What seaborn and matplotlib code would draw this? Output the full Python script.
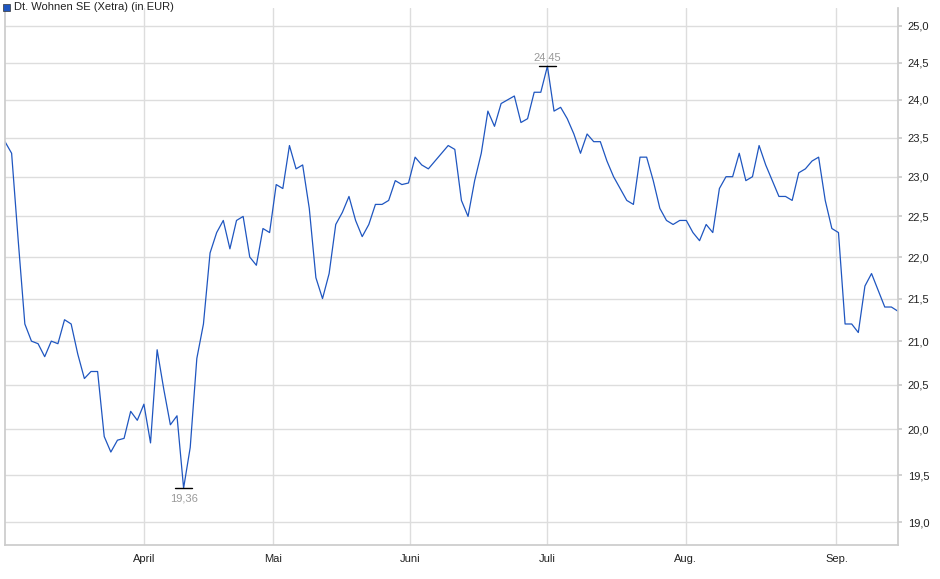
import numpy as np
import matplotlib
matplotlib.use("Agg")
import matplotlib.pyplot as plt
import seaborn as sns
from matplotlib.ticker import FixedLocator, NullLocator

prices = [23.45,23.3,22.2,21.2,21.0,20.97,20.82,21.0,20.97,21.25,
          21.2,20.85,20.57,20.65,20.65,19.92,19.75,19.88,19.9,20.2,
          20.1,20.28,19.85,20.9,20.45,20.05,20.15,19.36,19.8,20.8,
          21.2,22.05,22.3,22.45,22.1,22.45,22.5,22.0,21.9,22.35,
          22.3,22.9,22.85,23.4,23.1,23.15,22.6,21.75,21.5,21.8,
          22.4,22.55,22.75,22.45,22.25,22.4,22.65,22.65,22.7,22.95,
          22.9,22.92,23.25,23.15,23.1,23.2,23.3,23.4,23.35,22.7,
          22.5,22.95,23.3,23.85,23.65,23.95,24.0,24.05,23.7,23.75,
          24.1,24.1,24.45,23.85,23.9,23.75,23.55,23.3,23.55,23.45,
          23.45,23.2,23.0,22.85,22.7,22.65,23.25,23.25,22.95,22.6,
          22.45,22.4,22.45,22.45,22.3,22.2,22.4,22.3,22.85,23.0,
          23.0,23.3,22.95,23.0,23.4,23.15,22.95,22.75,22.75,22.7,
          23.05,23.1,23.2,23.25,22.7,22.35,22.3,21.2,21.2,21.1,
          21.65,21.8,21.6,21.4,21.4,21.35]
month_labels = ["April", "Mai", "Juni", "Juli", "Aug.", "Sep."]
month_pos = [21.0, 40.5, 61.3, 82.0, 102.9, 125.7]
y_ticks = [19.0,19.5,20.0,20.5,21.0,21.5,22.0,22.5,23.0,23.5,24.0,24.5,25.0]
title = "Dt. Wohnen SE (Xetra) (in EUR)"

sns.set_theme(style="white")
plt.rcParams['font.family'] = ['Liberation Sans', 'DejaVu Sans']
fig = plt.figure(figsize=(9.4, 5.79), dpi=100)
ax = fig.add_axes([5/940, 34/579, 893/940, 537/579])
x = np.arange(len(prices))
sns.lineplot(x=x, y=prices, ax=ax, color="#1f56c0", linewidth=0.9)
ax.set_yscale("log")
ax.set_ylim(18.76, 25.25)
ax.set_xlim(0, len(prices)-1)
ax.yaxis.set_major_locator(FixedLocator(y_ticks))
ax.yaxis.set_minor_locator(NullLocator())
ax.set_yticklabels([f"{v:.1f}".replace(".", ",") for v in y_ticks])
ax.yaxis.tick_right()
ax.set_xticks(month_pos)
ax.set_xticklabels(month_labels)
ax.tick_params(axis="both", labelsize=8, length=3, color="#cccccc", labelcolor="#222222")
ax.tick_params(axis="y", pad=4)
ax.grid(True, color="#dddddd", linewidth=1)
for s in ax.spines.values():
    s.set_color("#cccccc")
ax.spines["top"].set_visible(False)
imin, imax = int(np.argmin(prices)), int(np.argmax(prices))
for i, va, off in [(imin, "top", -4), (imax, "bottom", 3)]:
    ax.plot([i-1.3, i+1.3], [prices[i], prices[i]], color="black", lw=1)
    ax.annotate(f"{prices[i]:.2f}".replace(".", ","), (i, prices[i]), xytext=(0, off),
                textcoords="offset points", ha="center", va=va, fontsize=8, color="#999999")
fig.patches.append(plt.Rectangle((3/940, 1-11/579), 7/940, 7/579, transform=fig.transFigure,
                                 facecolor="#1f56c0", edgecolor="#333333", lw=0.5))
fig.text(14/940, 1-7.5/579, title, fontsize=8, va="center", color="#222222")
fig.savefig("out.png", dpi=100)
